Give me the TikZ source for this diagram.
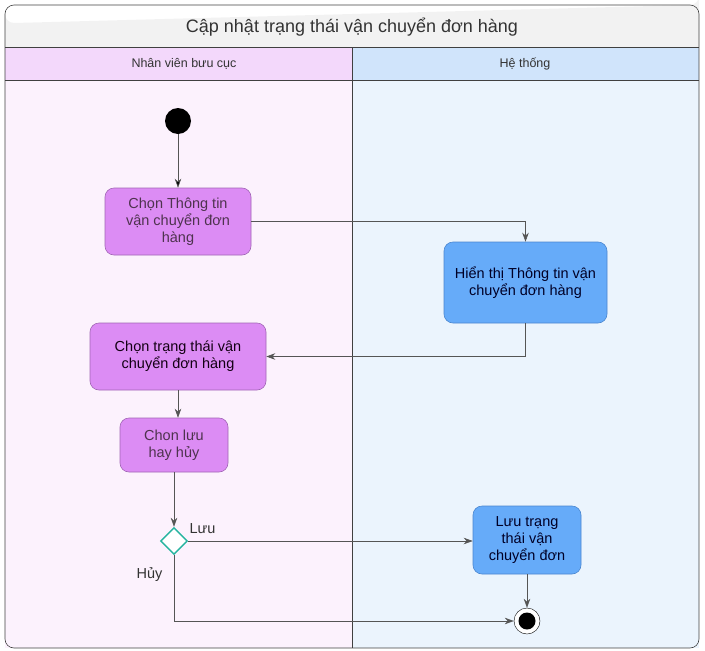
\documentclass[tikz,border=0pt]{standalone}
\usepackage{fontspec}
\setmainfont{Liberation Sans}
\usetikzlibrary{arrows.meta, shapes.geometric}
\definecolor{lanepinkhead}{HTML}{F3D8FB}
\definecolor{lanepink}{HTML}{FCF2FD}
\definecolor{lanebluehead}{HTML}{D0E4FB}
\definecolor{laneblue}{HTML}{EBF4FD}
\definecolor{actpurple}{HTML}{DC8CF4}
\definecolor{actpurpleline}{HTML}{A165B5}
\definecolor{actblue}{HTML}{66ABF9}
\definecolor{actblueline}{HTML}{4A86CF}
\definecolor{flowgrey}{HTML}{555555}
\definecolor{decteal}{HTML}{25B49F}

\begin{document}
\begin{tikzpicture}[x=1pt,y=-1pt,>={Stealth[length=9pt,width=6.5pt]},semithick]
  \tikzstyle{act}=[rectangle,rounded corners=9pt,align=center,font=\fontsize{14.5}{17}\selectfont,inner sep=0pt,execute at begin node={\rule{0pt}{19pt}}]
  \tikzstyle{purpleact}=[act,draw=actpurpleline,fill=actpurple,text=black!65!violet!60!gray]
  \tikzstyle{blueact}=[act,draw=actblueline,fill=actblue,text=black!85!blue]
  \tikzstyle{flow}=[->,draw=flowgrey,line width=0.6pt]
  \tikzstyle{lbl}=[font=\fontsize{14.5}{17}\selectfont,text=black!80]

  \useasboundingbox (0,0) rectangle (705,651);
  % lanes
  \fill[lanepink] (5,80) rectangle (352,648);
  \fill[laneblue] (352,80) rectangle (699,648);
  \fill[lanepinkhead] (5,47) rectangle (352,80);
  \fill[lanebluehead] (352,47) rectangle (699,80);
  \fill[black!5] (5,47) -- (5,14) arc[start angle=180,end angle=90,radius=9] -- (690,5) arc[start angle=90,end angle=0,radius=9] -- (699,47) -- cycle;
  \draw[black!75] (5,47) -- (699,47) (5,80) -- (699,80) (352,47) -- (352,648);
  \draw[black!75,rounded corners=9pt] (5,5) rectangle (699,648);
  \node[font=\fontsize{18}{21}\selectfont,text=black!80] (title) at (352,27) {Cập nhật trạng thái vận chuyển đơn hàng};
  \node[font=\fontsize{12.5}{15}\selectfont,text=black!80] (laneA) at (184,64) {Nhân viên bưu cục};
  \node[font=\fontsize{12.5}{15}\selectfont,text=black!80] (laneB) at (525,64) {Hệ thống};

  % activities
  \node[circle,fill=black,minimum size=26pt,inner sep=0pt] (start) at (178,121) {};
  \node[purpleact,minimum width=146pt,minimum height=67pt] (pick) at (178,221.5) {Chọn Thông tin\\vận chuyển đơn\\hàng};
  \node[blueact,minimum width=163pt,minimum height=81pt] (show) at (525.5,282.5) {Hiển thị Thông tin vận\\chuyển đơn hàng};
  \node[purpleact,minimum width=176pt,minimum height=67pt,text=black!85!violet] (status) at (178,356.5) {Chọn trạng thái vận\\chuyển đơn hàng};
  \node[purpleact,minimum width=108pt,minimum height=54pt] (choose) at (174,445) {Chon lưu\\hay hủy};
  \node[diamond,draw=decteal,fill=white,line width=1.4pt,minimum size=27pt,inner sep=0pt] (dec) at (174,541) {};
  \node[blueact,minimum width=108pt,minimum height=68pt] (save) at (527,540) {Lưu trạng\\thái vận\\chuyển đơn};
  \node[circle,draw=black,fill=white,thin,minimum size=26pt,inner sep=0pt] (stop) at (527,621) {};
  \node[circle,fill=black,minimum size=17pt,inner sep=0pt] (stopdot) at (stop) {};

  % flows
  \path[flow] (start) edge (pick);
  \draw[flow] (pick.east) -| (show.north);
  \draw[flow] (show.south) |- (status.east);
  \draw[flow] (status) -- (choose.north -| status);
  \draw[flow] (choose) -- (dec);
  \draw[flow] (dec.east) -- node[lbl,pos=0.05,above,yshift=4pt] {Lưu} (save.west |- dec.east);
  \draw[flow] (dec.south) |- node[lbl,pos=0.15,left,xshift=-8pt] {Hủy} (stop.west);
  \draw[flow] (save) -- (stop);
\end{tikzpicture}
\end{document}
